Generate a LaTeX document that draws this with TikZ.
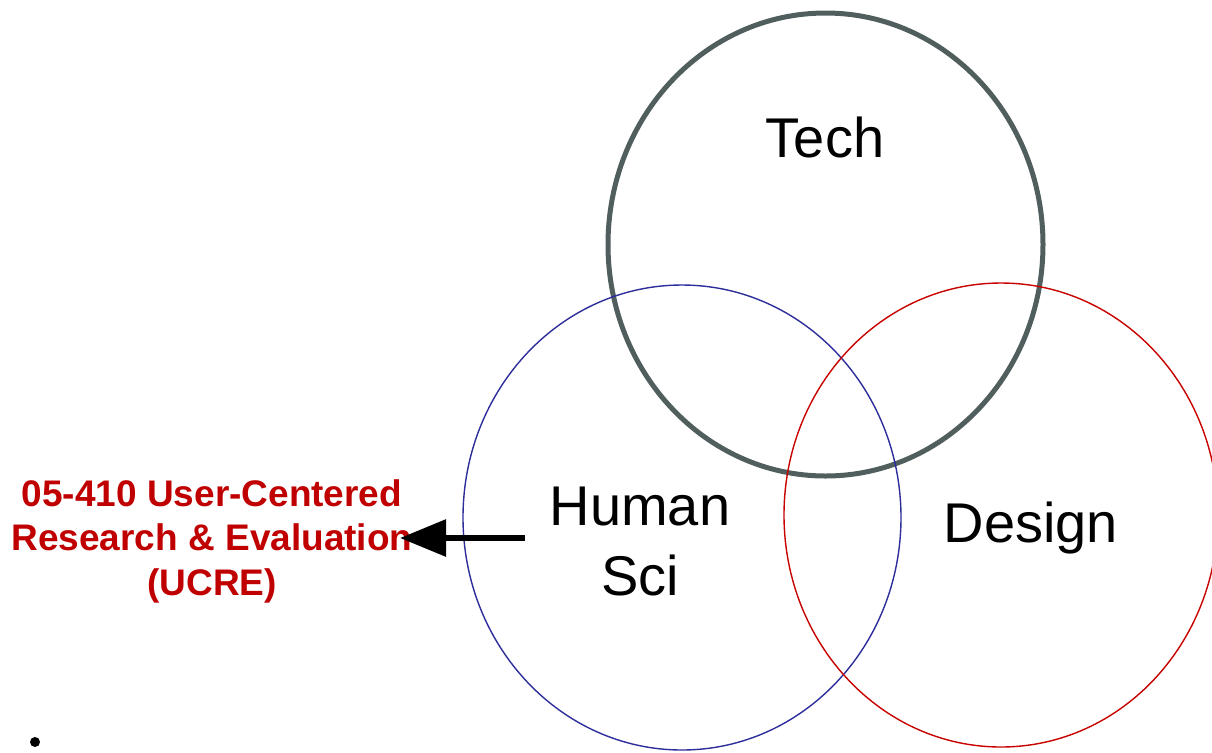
\documentclass[tikz,border=0pt]{standalone}
\usepackage{fontspec}
\setmainfont{Liberation Sans}
\usepackage{xcolor}
\usepackage{tikz}
\usetikzlibrary{arrows.meta,positioning,shapes.geometric}
\definecolor{techgray}{RGB}{80,94,94}
\definecolor{humblue}{RGB}{45,45,155}
\definecolor{desred}{RGB}{200,0,0}
\definecolor{ucrered}{RGB}{192,0,0}

\begin{document}
\begin{tikzpicture}[
            x=0.5pt, y=-0.5pt,
            ring/.style={
                ellipse, draw, inner sep=0pt, outer sep=0pt
            },
            label_big/.style={
                font=\fontsize{28}{35}\selectfont, align=center, inner sep=0pt
            },
            arrow_style/.style={-{Triangle[length=23pt, width=18pt]}, line width=3pt, black}
        ]
        \useasboundingbox (0,0) rectangle (1212,752);

        % Venn rings
        \node[ring, techgray, line width=2.5pt, minimum width=217.5pt, minimum height=231.5pt]
            (techring) at (825.5,244.5) {};
        \node[ring, humblue, line width=0.7pt, minimum width=219pt, minimum height=232.5pt]
            (humring) at (682,517.5) {};
        \node[ring, desred, line width=0.7pt, minimum width=217pt, minimum height=232pt]
            (desring) at (1001,515) {};

        % Labels
        \node[label_big, anchor=base] (tech) at (825,157) {Tech};
        \node[label_big] (human) at (640,541) {Human\\Sci};
        \node[label_big, anchor=base] (design) at (1031,542) {Design};

        % Course
        \node[font=\fontsize{18.5}{22.25}\selectfont\bfseries, text=ucrered, align=center, inner sep=0pt]
            (ucre) at (212,541) {05-410 User-Centered\\Research \& Evaluation\\(UCRE)};

        % Arrow
        \coordinate (tail) at (525,538);
        \coordinate (tip) at (400,538);
        \draw[arrow_style] (tail) -- (tip);

        % Stray dot
        \node[circle, fill=black, inner sep=0pt, minimum size=5pt] (dot) at (35,742) {};
\end{tikzpicture}
\end{document}
